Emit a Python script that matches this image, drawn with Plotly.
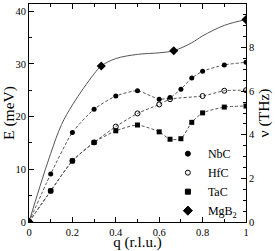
import plotly.graph_objects as go

# --- data ---
q_nbc = [0, 0.1, 0.2, 0.3, 0.4, 0.5, 0.6, 0.65, 0.7, 0.75, 0.8, 0.9, 1.0]
e_nbc = [0, 9.1, 17.0, 21.4, 23.9, 24.9, 23.3, 23.6, 25.2, 27.3, 28.6, 29.8, 30.3]

q_hfc = [0, 0.1, 0.2, 0.3, 0.4, 0.5, 0.6, 0.65, 0.8, 0.9, 1.0]
e_hfc = [0, 5.9, 11.6, 15.1, 18.1, 20.6, 22.3, 23.3, 23.9, 24.9, 25.0]

q_tac = [0, 0.1, 0.2, 0.3, 0.4, 0.5, 0.6, 0.65, 0.7, 0.75, 0.8, 0.9, 1.0]
e_tac = [0, 5.9, 11.6, 15.1, 17.3, 18.4, 17.1, 15.7, 15.8, 18.9, 20.7, 21.8, 22.0]

q_mgb2 = [0, 0.333, 0.667, 1.0]
e_mgb2 = [0, 29.6, 32.5, 38.4]

# MgB2 dispersion curve
q_mgb2_curve = [0, 0.05, 0.1, 0.15, 0.2, 0.25, 0.3, 0.333, 0.4, 0.5, 0.6, 0.667, 0.75, 0.8, 0.9, 1.0]
e_mgb2_curve = [0, 6.7, 13.0, 18.5, 22.2, 25.3, 28.1, 29.6, 31.0, 31.8, 32.1, 32.5, 34.0, 35.3, 37.3, 38.4]

names = ["NbC", "HfC", "TaC", "MgB<sub>2</sub>"]

MEV_PER_THZ = 4.1357
THZ_MAX = 10

FONT = "Liberation Serif"
LINE_COL = "#555555"
dash = "3px,2px"

fig = go.Figure()

fig.add_trace(go.Scatter(x=q_mgb2_curve, y=e_mgb2_curve, mode="lines", line=dict(color=LINE_COL, width=1, shape="spline"),
                         showlegend=False, hoverinfo="skip"))
fig.add_trace(go.Scatter(x=q_nbc, y=e_nbc, mode="lines+markers", line=dict(color=LINE_COL, width=1, dash=dash, shape="spline", smoothing=0.6),
                         marker=dict(symbol="circle", size=5, color="black"), showlegend=False))
fig.add_trace(go.Scatter(x=q_hfc, y=e_hfc, mode="lines+markers", line=dict(color=LINE_COL, width=1, dash=dash, shape="spline", smoothing=0.6),
                         marker=dict(symbol="circle-open", size=5, color="black", line=dict(width=1)), showlegend=False))
fig.add_trace(go.Scatter(x=q_tac, y=e_tac, mode="lines+markers", line=dict(color=LINE_COL, width=1, dash=dash, shape="spline", smoothing=0.6),
                         marker=dict(symbol="square", size=5, color="black"), showlegend=False))
fig.add_trace(go.Scatter(x=q_mgb2, y=e_mgb2, mode="markers",
                         marker=dict(symbol="diamond", size=7, color="black"), showlegend=False))

# legend entries (markers only)
sym = ["circle", "circle-open", "square", "diamond"]
for n, s in zip(names, sym):
    fig.add_trace(go.Scatter(x=[None], y=[None], mode="markers", name=n,
                             marker=dict(symbol=s, size=5 if s != "diamond" else 7, color="black", line=dict(width=1, color="black"))))

# dummy trace on secondary axis
fig.add_trace(go.Scatter(x=[None], y=[None], yaxis="y2", showlegend=False))

axis_common = dict(showline=True, linecolor="black", linewidth=1, ticks="inside", tickcolor="black",
                   ticklen=5, showgrid=False, zeroline=False, automargin=False,
                   tickfont=dict(family=FONT, size=10.5, color="black"))

fig.update_layout(
    width=275, height=251,
    margin=dict(l=29, r=29, t=4, b=29),
    paper_bgcolor="white", plot_bgcolor="white",
    font=dict(family=FONT, color="black"),
    xaxis=dict(range=[0, 1], dtick=0.2, tick0=0, mirror="ticks",
               minor=dict(dtick=0.1, ticklen=3, ticks="inside", tickcolor="black"),
               title=dict(text="q (r.l.u.)", font=dict(family=FONT, size=15), standoff=5),
               **axis_common),
    yaxis=dict(range=[0, THZ_MAX * MEV_PER_THZ], dtick=10, tick0=0,
               minor=dict(dtick=5, ticklen=3, ticks="inside", tickcolor="black"),
               title=dict(text="E (meV)", font=dict(family=FONT, size=15.5), standoff=1),
               **axis_common),
    yaxis2=dict(range=[0, THZ_MAX], dtick=2, tick0=0, overlaying="y", side="right",
                minor=dict(dtick=0.5, ticklen=3, ticks="inside", tickcolor="black"),
                title=dict(text="ν (THz)", font=dict(family=FONT, size=15.5), standoff=1),
                **axis_common),
    legend=dict(x=0.64, y=0.38, xanchor="left", yanchor="top", bgcolor="rgba(0,0,0,0)",
                font=dict(family=FONT, size=12), itemwidth=30, tracegroupgap=0),
)

fig.write_html("out.html", config={"displayModeBar": False},
               post_script="document.body.style.margin='0';document.body.style.overflow='hidden';")
